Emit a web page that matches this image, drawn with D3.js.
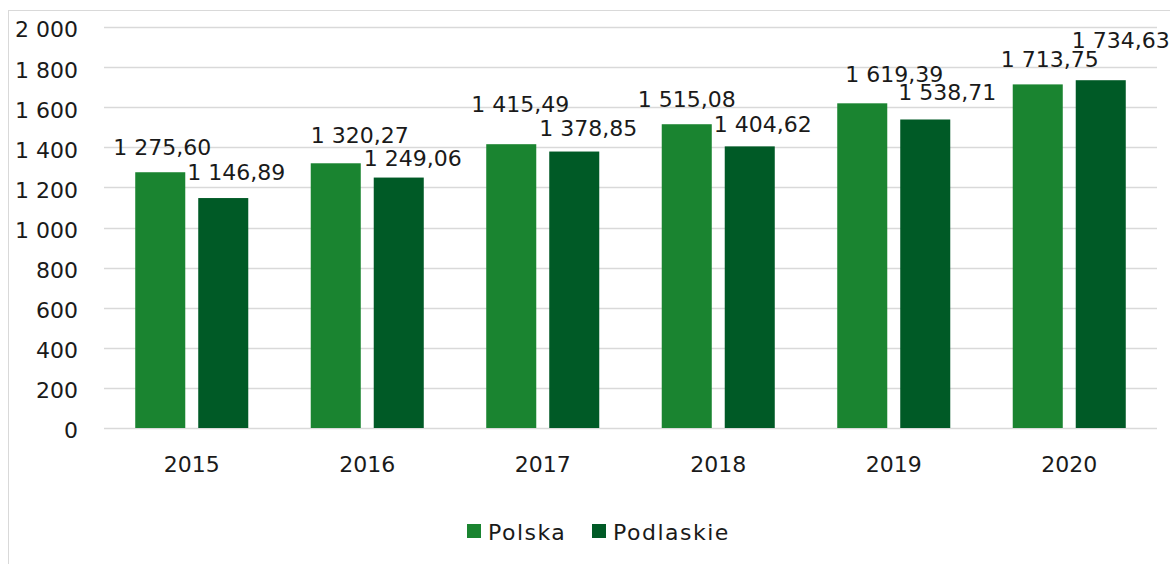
<!DOCTYPE html>
<html>
<head>
<meta charset="utf-8">
<script src="https://cdn.jsdelivr.net/npm/d3@7"></script>
<style>
  html, body { margin: 0; padding: 0; background: #ffffff; }
  svg { display: block; }
  text { font-family: "DejaVu Sans", sans-serif; fill: #1a1a1a; }
</style>
</head>
<body>
<svg id="chart" width="1170" height="564"></svg>
<script>
// ---- data ----
const years = ["2015", "2016", "2017", "2018", "2019", "2020"];
const seriesNames = ["Polska", "Podlaskie"];
const polska = [1275.60, 1320.27, 1415.49, 1515.08, 1619.39, 1713.75];
const podlaskie = [1146.89, 1249.06, 1378.85, 1404.62, 1538.71, 1734.63];
const yTicks = [0, 200, 400, 600, 800, 1000, 1200, 1400, 1600, 1800, 2000];

// ---- styling / layout ----
const colors = ["#1a8430", "#005a26"];
const fontSize = 22;
// label nudges (layout only) [dx, dy] per series per year
const labelNudge = [
  [[2, 0], [24, -3], [9, -15], [0, 0], [32, -4], [12, 0]],
  [[13, -1], [14, 5], [14, 1], [13, 3], [22, -2], [20, -15]]
];

const svg = d3.select("#chart");
const fmt = v => {
  const parts = v.toFixed(2).split(".");
  const int = parts[0].replace(/\B(?=(\d{3})+(?!\d))/g, " ");
  return int + "," + parts[1];
};
const fmtTick = v => String(v).replace(/\B(?=(\d{3})+(?!\d))/g, " ");

// chart area border
svg.append("rect")
  .attr("x", 8.5).attr("y", 10.5)
  .attr("width", 1200).attr("height", 600)
  .attr("fill", "none").attr("stroke", "#d9d9d9").attr("stroke-width", 1);

const plotLeft = 104, plotRight = 1157;
const y = d3.scaleLinear().domain([0, 2000]).range([428, 27]);
const x = d3.scaleBand().domain(years).range([plotLeft, plotRight])
  .paddingInner(0.356).paddingOuter(0.178);
const xs = d3.scaleBand().domain(seriesNames).range([0, x.bandwidth()])
  .paddingInner(0.206).paddingOuter(0);

// gridlines
svg.append("g").selectAll("line").data(yTicks).join("line")
  .attr("x1", plotLeft).attr("x2", plotRight)
  .attr("y1", d => Math.round(y(d)) + 0.5).attr("y2", d => Math.round(y(d)) + 0.5)
  .attr("stroke", "#d9d9d9").attr("stroke-width", 1.3);

// y axis labels
const yAxis = d3.axisLeft(y).tickValues(yTicks).tickFormat(fmtTick).tickSize(0).tickPadding(0);
const gy = svg.append("g").attr("transform", "translate(78,0)").call(yAxis);
gy.select(".domain").remove();
gy.selectAll("text")
  .attr("font-family", "DejaVu Sans, sans-serif")
  .attr("font-size", fontSize).attr("fill", "#1a1a1a")
  .attr("dy", "0.45em");

// x axis labels
const xAxis = d3.axisBottom(x).tickSize(0).tickPadding(0);
const gx = svg.append("g").attr("transform", "translate(0,428)").call(xAxis);
gx.select(".domain").remove();
gx.selectAll("text")
  .attr("font-family", "DejaVu Sans, sans-serif")
  .attr("font-size", fontSize).attr("fill", "#1a1a1a")
  .attr("y", 44).attr("dy", 0);

const series = [polska, podlaskie];
const data = [];
series.forEach((vals, si) => vals.forEach((v, i) => data.push({ si, i, year: years[i], name: seriesNames[si], v })));

// bars
svg.append("g").selectAll("rect").data(data).join("rect")
  .attr("x", d => x(d.year) + xs(d.name))
  .attr("width", xs.bandwidth())
  .attr("y", d => y(d.v))
  .attr("height", d => y(0) - y(d.v))
  .attr("fill", d => colors[d.si]);

// data labels
svg.append("g").selectAll("text").data(data).join("text")
  .attr("x", d => x(d.year) + xs(d.name) + xs.bandwidth() / 2 + labelNudge[d.si][d.i][0])
  .attr("y", d => y(d.v) - 17 + labelNudge[d.si][d.i][1])
  .attr("text-anchor", "middle")
  .attr("font-size", fontSize)
  .text(d => fmt(d.v));

// legend
const legend = svg.append("g");
const legendItems = [{ name: "Polska", x: 467 }, { name: "Podlaskie", x: 592 }];
legendItems.forEach((it, k) => {
  legend.append("rect").attr("x", it.x).attr("y", 524).attr("width", 14).attr("height", 14)
    .attr("fill", colors[k]);
  legend.append("text").attr("x", it.x + 21).attr("y", 540)
    .attr("font-size", fontSize).attr("letter-spacing", 1.5).text(it.name);
});
</script>
</body>
</html>
